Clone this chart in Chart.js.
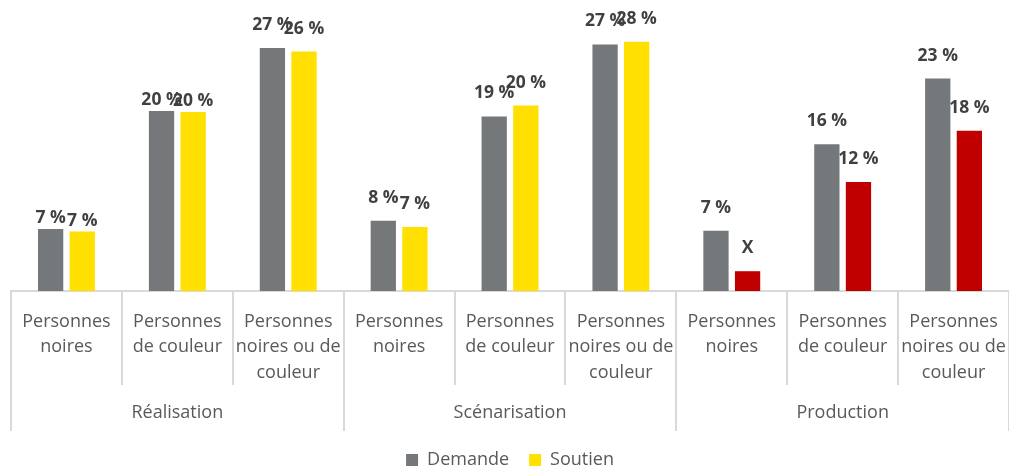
<!DOCTYPE html>
<html>
<head>
<meta charset="utf-8">
<script src="https://cdn.jsdelivr.net/npm/chart.js@4/dist/chart.umd.min.js"></script>
<style>
  html, body { margin: 0; padding: 0; background: #fff; }
</style>
</head>
<body>
<canvas id="graphique" width="1009" height="467"></canvas>
<script>
// Données (en %)
const categories = [
  ['Personnes', 'noires'], ['Personnes', 'de couleur'], ['Personnes', 'noires ou de', 'couleur'],
  ['Personnes', 'noires'], ['Personnes', 'de couleur'], ['Personnes', 'noires ou de', 'couleur'],
  ['Personnes', 'noires'], ['Personnes', 'de couleur'], ['Personnes', 'noires ou de', 'couleur']
];
const groupes = ['Réalisation', 'Scénarisation', 'Production'];
const demande = [6.9, 20.0, 27.0, 7.8, 19.4, 27.4, 6.7, 16.3, 23.6];
const soutien = [6.6, 19.9, 26.6, 7.1, 20.6, 27.7, 2.2, 12.1, 17.8];
const etiquettesDemande = ['7 %', '20 %', '27 %', '8 %', '19 %', '27 %', '7 %', '16 %', '23 %'];
const etiquettesSoutien = ['7 %', '20 %', '26 %', '7 %', '20 %', '28 %', 'X', '12 %', '18 %'];

const GRIS = '#75787b';
const JAUNE = '#ffe000';
const ROUGE = '#c00000';
const POLICE = '"Open Sans"';

// Les barres "Soutien" de Production sont en rouge
const couleursSoutien = soutien.map((v, i) => i >= 6 ? ROUGE : JAUNE);

// Étiquettes de valeur au-dessus des barres
// (les deux premières catégories ont leurs étiquettes plus près des barres)
const etiquettes = {
  id: 'etiquettes',
  afterDatasetsDraw(chart) {
    const ctx = chart.ctx;
    ctx.save();
    ctx.font = 'bold 17.5px ' + POLICE;
    ctx.fillStyle = '#404040';
    ctx.textAlign = 'center';
    ctx.textBaseline = 'alphabetic';
    [etiquettesDemande, etiquettesSoutien].forEach((textes, d) => {
      chart.getDatasetMeta(d).data.forEach((barre, i) => {
        const decalage = i < 2 ? 6 : 18;
        ctx.fillText(textes[i], barre.x, barre.y - decalage);
      });
    });
    ctx.restore();
  }
};

// Séparateurs de l'axe à deux niveaux
const separateurs = {
  id: 'separateurs',
  afterDraw(chart) {
    const x = chart.scales.x, x2 = chart.scales.x2;
    const ctx = chart.ctx;
    const largeur = x.width / categories.length;
    ctx.save();
    ctx.strokeStyle = '#d9d9d9';
    ctx.lineWidth = 2;
    for (let i = 0; i <= categories.length; i++) {
      const px = Math.round(x.left + i * largeur);
      const bas = (i % 3 === 0) ? x2.bottom : x.bottom;
      ctx.beginPath();
      ctx.moveTo(px, x.top);
      ctx.lineTo(px, bas);
      ctx.stroke();
    }
    ctx.restore();
  }
};

new Chart(document.getElementById('graphique'), {
  type: 'bar',
  data: {
    labels: categories,
    datasets: [
      { label: 'Demande', data: demande, backgroundColor: GRIS, borderWidth: 0 },
      { label: 'Soutien', data: soutien, backgroundColor: couleursSoutien, borderWidth: 0 }
    ]
  },
  options: {
    responsive: false,
    animation: false,
    layout: { padding: { left: 11, right: 0, top: 3, bottom: -12 } },
    datasets: { bar: { categoryPercentage: 0.57, barPercentage: 0.8 } },
    plugins: {
      tooltip: { enabled: false },
      legend: {
        position: 'bottom',
        labels: {
          boxWidth: 12, boxHeight: 12, padding: 20,
          color: '#595959',
          font: { family: POLICE, size: 18 }
        }
      }
    },
    scales: {
      y: { display: false, min: 0, max: 32 },
      x: {
        weight: 0,
        grid: { display: false },
        border: { display: true, color: '#d9d9d9', width: 2 },
        ticks: {
          color: '#595959', font: { family: POLICE, size: 18, lineHeight: 1.42 },
          maxRotation: 0, autoSkip: false, padding: 10
        },
        afterFit(s) { s.height = 94; s.paddingLeft = 0; s.paddingRight = 0; }
      },
      x2: {
        type: 'category',
        labels: groupes,
        position: 'bottom',
        weight: 1,
        offset: true,
        grid: { display: false },
        border: { display: false },
        ticks: { color: '#595959', font: { family: POLICE, size: 18 }, padding: 9 },
        afterFit(s) { s.height = 46; s.paddingLeft = 0; s.paddingRight = 0; }
      }
    }
  },
  plugins: [etiquettes, separateurs]
});
</script>
</body>
</html>
